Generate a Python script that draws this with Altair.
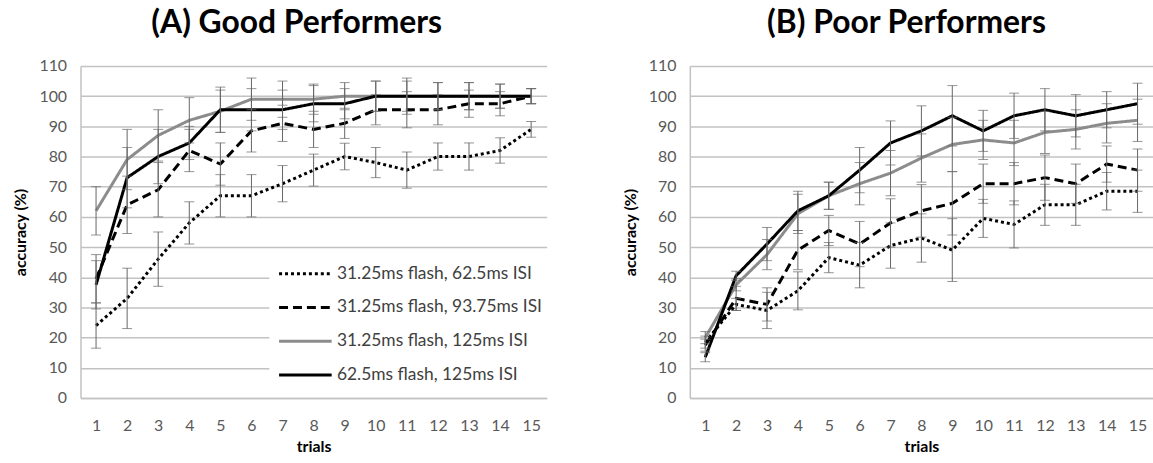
import altair as alt
import pandas as pd

trials = list(range(1, 16))
series_names = [
    "31.25ms flash, 62.5ms ISI",
    "31.25ms flash, 93.75ms ISI",
    "31.25ms flash, 125ms ISI",
    "62.5ms flash, 125ms ISI",
]
series_colors = ["#000000", "#000000", "#8c8c8c", "#000000"]
series_dashes = [[3, 3], [9, 5], [1, 0], [1, 0]]
y_ticks = list(range(0, 111, 10))

# (A) Good performers
good_s1 = [24, 33, 46, 58, 67, 67, 71, 75.5, 80, 78, 75.5, 80, 80, 82, 89]
good_s1_err = [7.5, 10, 9, 7, 7, 7, 6, 5.3, 4.4, 5, 6, 4.5, 4.5, 4.2, 2.6]
good_s2 = [39.5, 64, 69, 82, 77.5, 88.5, 91, 89, 91, 95.5, 95.5, 95.5, 97.5, 97.5, 100]
good_s2_err = [8, 9.5, 9, 7, 7, 7, 6, 6, 5, 5, 6, 5, 4.5, 4, 2.5]
good_s3 = [62, 79, 87, 92, 95, 99, 99, 99, 100, 100, 100, 100, 100, 100, 100]
good_s3_err = [8, 10, 8.5, 7.5, 7, 7, 6, 5, 4.5, 5, 5, 4.5, 4.5, 4, 2.5]
good_s4 = [37.5, 73, 80, 84.5, 95.5, 95.5, 95.5, 97.5, 97.5, 100, 100, 100, 100, 100, 100]
good_s4_err = [8, 10, 9, 5.5, 7.5, 7, 6.5, 6, 5, 5, 6, 4.5, 4.5, 4, 2.5]

# (B) Poor performers
poor_s1 = [18.5, 31, 29, 35.5, 46.5, 44, 50.5, 53, 49, 59.5, 57.5, 64, 64, 68.5, 68.5]
poor_s1_err = [2, 2, 6, 6.3, 5, 7.5, 7.5, 8, 10.4, 6.3, 7.8, 6.8, 6.8, 6.2, 7]
poor_s2 = [17.5, 33, 31, 49, 55.5, 51, 58, 62, 64.5, 71, 71, 73, 71, 77.5, 75.5]
poor_s2_err = [2, 4, 5.5, 6.5, 5, 7.5, 8, 8.7, 10.5, 6.5, 7, 7.5, 6.5, 6, 7]
poor_s3 = [20, 37.5, 47.5, 61, 67, 71, 74.5, 79.5, 84, 85.5, 84.5, 88, 89, 91, 92]
poor_s3_err = [2, 2, 5, 6.5, 4.5, 7, 7.5, 8, 9, 6.5, 7.5, 7, 6.5, 6.5, 7]
poor_s4 = [13.5, 40.5, 51, 62, 67, 75.5, 84.5, 88.5, 93.5, 88.5, 93.5, 95.5, 93.5, 95.5, 97.5]
poor_s4_err = [1.5, 1.5, 5.5, 6.5, 4.5, 7.5, 7.3, 8.3, 10, 6.8, 7.5, 7, 7, 6, 6.8]

FONT = "Lato"
GRID = "#c2c2c2"
ERR = "#666666"


def make_df(vals, errs):
    rows = []
    for k, (name, v, e) in enumerate(zip(series_names, vals, errs)):
        for t, m, s in zip(trials, v, e):
            rows.append({"trial": t, "series": name, "order": k,
                         "acc": m, "lo": m - s, "hi": m + s})
    return pd.DataFrame(rows)


def panel(title, dx, vals, errs, show_legend, width):
    df = make_df(vals, errs)
    x_scale = alt.Scale(type="point", padding=0.5)
    y_scale = alt.Scale(domain=[0, 110], nice=False, zero=True)
    x_axis = alt.Axis(
        title="trials", labelAngle=0, grid=False, ticks=False,
        domainColor=GRID, domainWidth=1.5, labelPadding=20,
        labelFont=FONT, labelFontSize=16, labelColor="#595959",
        titleFont=FONT, titleFontSize=16, titleFontWeight="bold",
        titleColor="#000000", titlePadding=5,
    )
    y_axis = alt.Axis(
        title="accuracy (%)", values=y_ticks, grid=True, gridColor=GRID,
        gridWidth=1.5, ticks=False, domainColor=GRID, domainWidth=1.5,
        labelPadding=14, labelFont=FONT, labelFontSize=16, labelOverlap=False,
        labelColor="#595959", titleFont=FONT, titleFontSize=16,
        titleFontWeight="bold", titleColor="#000000", titlePadding=10,
    )
    if show_legend:
        legend = alt.Legend(
            title=None, orient="none", legendX=190, legendY=186,
            symbolType="M-1,0H3", symbolSize=700, symbolStrokeWidth=3,
            symbolStrokeColor="black",
            labelFont=FONT, labelFontSize=17.5, labelColor="#404040",
            labelOffset=30, labelLimit=400, fillColor="white",
            padding=8, rowPadding=10,
        )
    else:
        legend = None
    X = alt.X("trial:O", scale=x_scale, axis=x_axis)
    lines = alt.Chart(df).mark_line(strokeWidth=3, strokeCap="butt").encode(
        x=X,
        y=alt.Y("acc:Q", scale=y_scale, axis=y_axis),
        color=alt.Color("series:N", sort=series_names,
                        scale=alt.Scale(domain=series_names, range=series_colors),
                        legend=legend),
        strokeDash=alt.StrokeDash("series:N", sort=series_names,
                                  scale=alt.Scale(domain=series_names, range=series_dashes),
                                  legend=legend),
        order=alt.Order("order:Q"),
        detail="series:N",
    )
    rules = alt.Chart(df).mark_rule(color=ERR, strokeWidth=1).encode(
        x=X, y=alt.Y("lo:Q", scale=y_scale, axis=y_axis), y2="hi:Q",
    )
    caps_lo = alt.Chart(df).mark_tick(color=ERR, thickness=1, size=10).encode(
        x=X, y=alt.Y("lo:Q", scale=y_scale, axis=y_axis),
    )
    caps_hi = alt.Chart(df).mark_tick(color=ERR, thickness=1, size=10).encode(
        x=X, y=alt.Y("hi:Q", scale=y_scale, axis=y_axis),
    )
    layer = alt.layer(lines, rules, caps_lo, caps_hi).properties(
        width=width, height=334,
        title=alt.TitleParams(
            text=title, font=FONT, fontSize=32, fontWeight="bold",
            color="#000000", anchor="middle", frame="group", dx=dx, offset=18,
        ),
    ).resolve_scale(color="independent", strokeDash="independent")
    return layer


chart_a = panel("(A) Good Performers", -17, [good_s1, good_s2, good_s3, good_s4],
                [good_s1_err, good_s2_err, good_s3_err, good_s4_err], True, 469)
chart_b = panel("(B) Poor Performers", -15, [poor_s1, poor_s2, poor_s3, poor_s4],
                [poor_s1_err, poor_s2_err, poor_s3_err, poor_s4_err], False, 466)

chart = alt.hconcat(chart_a, chart_b, spacing=72).resolve_scale(
    color="independent", strokeDash="independent"
).properties(
    padding={"left": 13, "right": 0, "top": 6, "bottom": 0}
).configure(background="white").configure_view(stroke=None)

chart.save("out.html", embed_options={"renderer": "svg", "actions": False})
